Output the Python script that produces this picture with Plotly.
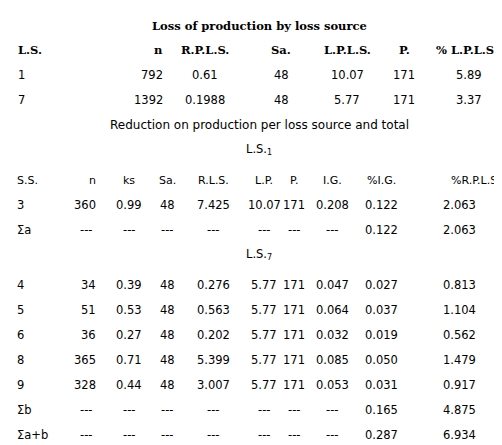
import plotly.graph_objects as go

title1 = "Loss of production by loss source"
head1 = ["L.S.", "n", "R.P.L.S.", "Sa.", "L.P.L.S.", "P.", "% L.P.L.S."]
rows1 = [["1", "792", "0.61", "48", "10.07", "171", "5.89"],
         ["7", "1392", "0.1988", "48", "5.77", "171", "3.37"]]
title2 = "Reduction on production per loss source and total"
sub_a = ("L.S.", "1")
sub_b = ("L.S.", "7")
head2 = ["S.S.", "n", "ks", "Sa.", "R.L.S.", "L.P.", "P.", "I.G.", "%I.G.", "%R.P.L.S."]
rows_a = [["3", "360", "0.99", "48", "7.425", "10.07", "171", "0.208", "0.122", "2.063"],
          ["\u03a3a", "---", "---", "---", "---", "---", "---", "---", "0.122", "2.063"]]
rows_b = [["4", "34", "0.39", "48", "0.276", "5.77", "171", "0.047", "0.027", "0.813"],
          ["5", "51", "0.53", "48", "0.563", "5.77", "171", "0.064", "0.037", "1.104"],
          ["6", "36", "0.27", "48", "0.202", "5.77", "171", "0.032", "0.019", "0.562"],
          ["8", "365", "0.71", "48", "5.399", "5.77", "171", "0.085", "0.050", "1.479"],
          ["9", "328", "0.44", "48", "3.007", "5.77", "171", "0.053", "0.031", "0.917"],
          ["\u03a3b", "---", "---", "---", "---", "---", "---", "---", "0.165", "4.875"],
          ["\u03a3a+b", "---", "---", "---", "---", "---", "---", "---", "0.287", "6.934"]]

# layout (pixel positions)
col1 = [(8, "left"), (157, "right"), (197, "center"), (273, "center"), (339, "center"), (396, "center"), (461, "center")]
col2 = [(7, "left"), (90, "right"), (121, "center"), (159, "center"), (205, "center"), (256, "center"),
        (286, "center"), (324, "center"), (373, "center"), (451, "center")]

BOLD = "DejaVu Serif"
REG = "DejaVu Sans"
ann = []

def add(x, y, t, anchor="center", bold=False, size=11.5):
    ann.append(dict(x=x, y=y, text=t, xanchor=anchor, yanchor="middle", showarrow=False,
                    xref="x", yref="y",
                    font=dict(family=BOLD if bold else REG, size=11.5 if bold else size, color="black")))

add(251, 18, "<b>%s</b>" % title1, bold=True)
for i, ((x, a), t) in enumerate(zip(col1, head1)):
    if i == len(head1) - 1:
        x, a = 492, "right"
    add(x, 42, "<b>%s</b>" % t, a, bold=True)
for r, y in zip(rows1, [67, 92]):
    for (x, a), t in zip(col1, r):
        add(x, y, t, a)
add(251, 117, title2, size=12)
add(251, 141, "%s<sub>%s</sub>" % sub_a)
for i, ((x, a), t) in enumerate(zip(col2, head2)):
    if i == len(head2) - 1:
        x, a = 495, "right"
    add(x, 172, t, a, size=11)
for r, y in zip(rows_a, [197, 222]):
    for (x, a), t in zip(col2, r):
        add(x if t != "---" or a != "right" else x - 4, y, t, a)
add(251, 246, "%s<sub>%s</sub>" % sub_b)
for i, r in enumerate(rows_b):
    y = 277 + i * 25
    for (x, a), t in zip(col2, r):
        add(x if t != "---" or a != "right" else x - 4, y, t, a)

fig = go.Figure()
fig.update_layout(width=502, height=445, margin=dict(l=0, r=0, t=0, b=0),
                  paper_bgcolor="white", plot_bgcolor="white", annotations=ann,
                  xaxis=dict(range=[0, 502], visible=False, fixedrange=True),
                  yaxis=dict(range=[445, 0], visible=False, fixedrange=True))
fig.write_html("out.html")
